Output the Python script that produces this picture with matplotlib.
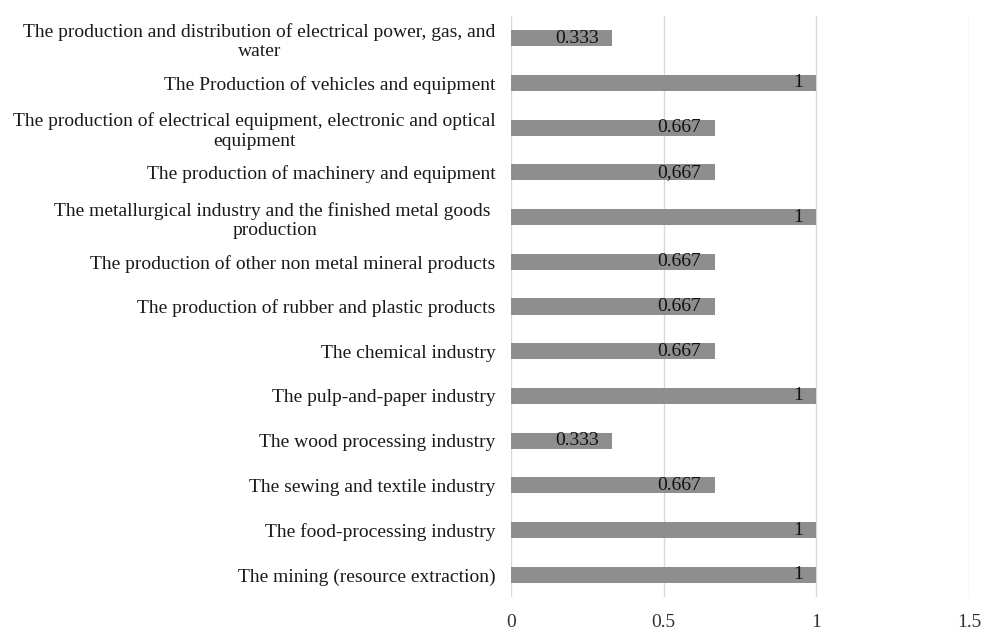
import numpy as np
import matplotlib.pyplot as plt

plt.rcParams['font.family'] = ['Liberation Serif', 'DejaVu Serif']

# Categories listed bottom to top
categories = [
    "The mining (resource extraction)",
    "The food-processing industry",
    "The sewing and textile industry",
    "The wood processing industry",
    "The pulp-and-paper industry",
    "The chemical industry",
    "The production of rubber and plastic products",
    "The production of other non metal mineral products",
    "The metallurgical industry and the finished metal goods \nproduction",
    "The production of machinery and equipment",
    "The production of electrical equipment, electronic and optical\nequipment",
    "The Production of vehicles and equipment",
    "The production and distribution of electrical power, gas, and\nwater",
]
values = [1, 1, 0.667, 0.333, 1, 0.667, 0.667, 0.667, 1, 0.667, 0.667, 1, 0.333]
value_labels = ["1", "1", "0.667", "0.333", "1", "0.667", "0.667", "0.667", "1",
                "0,667", "0.667", "1", "0.333"]
xticks = [0, 0.5, 1, 1.5]

fig = plt.figure(figsize=(9.84, 6.32), dpi=100)
ax = fig.add_axes([0.519, 0.055, 0.466, 0.92])

y = np.arange(len(categories))
ax.barh(y, values, height=0.36, color='#8e8e8e', zorder=2)

for yi, v, lab in zip(y, values, value_labels):
    ax.text(v - 0.045, yi, lab, ha='right', va='center', fontsize=14,
            color='#111111', zorder=3)

ax.set_xlim(0, 1.5)
ax.set_ylim(-0.5, len(categories) - 0.5)
ax.set_xticks(xticks)
ax.set_xticklabels([str(t) for t in xticks], fontsize=14, color='#333333')
ax.set_yticks(y)
ax.set_yticklabels(categories, fontsize=14, color='#1a1a1a', multialignment='center',
                   linespacing=1.2)
ax.tick_params(axis='both', length=0)
ax.tick_params(axis='x', pad=12)
ax.tick_params(axis='y', pad=11)
ax.xaxis.grid(True, color='#d9d9d9', linewidth=1, zorder=0)
for s in ax.spines.values():
    s.set_visible(False)

plt.savefig("out.png", dpi=100)
